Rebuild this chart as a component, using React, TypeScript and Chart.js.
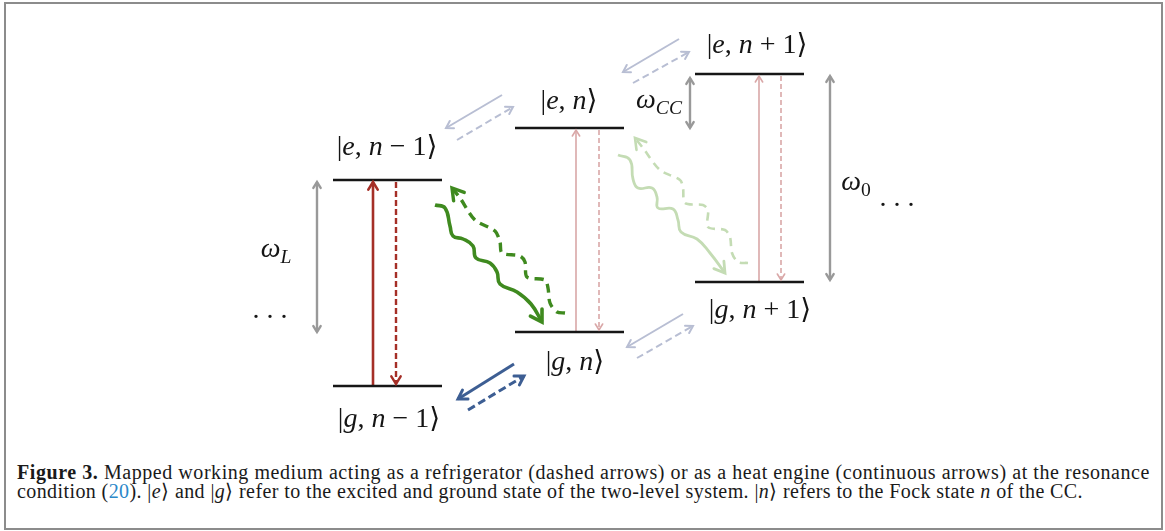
import React, { useEffect, useLayoutEffect, useRef } from "react";
import { Chart, registerables } from "chart.js";

Chart.register(...registerables);

// ---------- data (figure units: x to the right, y downwards) ----------
// Energy levels
const levelKets = ["e, n − 1", "g, n − 1", "e, n", "g, n", "e, n + 1", "g, n + 1"];
const levelStart = [333, 333, 515, 515, 695, 695];
const levelEnd = [442, 442, 624, 624, 804, 804];
const levelY = [180, 386, 128, 332, 74, 282];
const ketX = [387, 389, 569, 575, 757, 760];
const ketY = [155, 427, 109, 370, 53, 318];

// Vertical two-level transitions
const transX = [373, 396, 576, 599, 759, 781];
const transFrom = [386, 182, 332, 130, 282, 76];
const transTo = [182, 384, 130, 330, 76, 280];
const transKind = ["redSolid", "redDash", "pinkSolid", "pinkDash", "pinkSolid", "pinkDash"];

// Energy gaps (double headed)
const gapNames = ["ωL", "ωCC", "ω0"];
const gapX = [317, 690, 830];
const gapTop = [182, 78, 76];
const gapBottom = [332, 128, 280];

// CC transitions between columns
const diagFromX = [502, 457, 679, 633, 683, 637, 514, 468];
const diagFromY = [95, 140, 39, 83, 314, 358, 364, 410];
const diagToX = [446, 513, 623, 689, 627, 693, 458, 524];
const diagToY = [128, 107, 72, 52, 347, 326, 399, 376];
const diagKind = ["paleSolid", "paleDash", "paleSolid", "paleDash", "paleSolid", "paleDash", "blueSolid", "blueDash"];

// Wavy (bath) transitions
const waveDarkSolidX = [435, 445, 450, 453, 463, 473, 476, 490, 497, 500, 517, 531, 542];
const waveDarkSolidY = [205, 208, 226, 236, 239, 246, 258, 263, 272, 284, 292, 304, 322];
const waveDarkDashX = [565, 557, 550, 548, 545, 527, 525, 520, 502, 500, 495, 475, 460, 452];
const waveDarkDashY = [313, 312, 303, 288, 280, 277, 262, 256, 253, 242, 231, 220, 198, 188];
const waveLightSolidX = [618, 630, 633, 638, 652, 657, 658, 673, 678, 681, 697, 710, 725];
const waveLightSolidY = [155, 160, 179, 188, 188, 197, 208, 209, 220, 232, 239, 253, 273];
const waveLightDashX = [748, 738, 732, 730, 725, 708, 708, 703, 685, 683, 680, 660, 643, 635];
const waveLightDashY = [263, 262, 253, 237, 230, 227, 210, 205, 203, 188, 180, 170, 148, 138];

// Extra labels
const dotsX = [270, 897];
const dotsY = [318, 206];
const gapLabelX = [276, 659, 856];
const gapLabelY = [257, 108, 190];

// ---------- styles ----------
const styles: Record<string, any> = {
  level: { borderColor: "#161616", borderWidth: 2.6 },
  redSolid: { borderColor: "#a52f27", borderWidth: 2.6, head: 9 },
  redDash: { borderColor: "#a52f27", borderWidth: 2.4, borderDash: [6, 3], head: 9 },
  pinkSolid: { borderColor: "#d9a7a7", borderWidth: 1.6, head: 7 },
  pinkDash: { borderColor: "#d9a7a7", borderWidth: 1.6, borderDash: [5, 3], head: 7 },
  gap: { borderColor: "#999999", borderWidth: 2.4, head: 7, both: true },
  paleSolid: { borderColor: "#b8bed3", borderWidth: 2, head: 8 },
  paleDash: { borderColor: "#b8bed3", borderWidth: 2, borderDash: [7, 4], head: 8 },
  blueSolid: { borderColor: "#3d5e93", borderWidth: 3, head: 10 },
  blueDash: { borderColor: "#3d5e93", borderWidth: 3, borderDash: [8, 4], head: 10 },
  greenSolid: { borderColor: "#3f8a1f", borderWidth: 3.6, head: 13, tension: 0.45 },
  greenDash: { borderColor: "#3f8a1f", borderWidth: 3.4, borderDash: [9, 6], head: 13, tension: 0.3 },
  lightGreenSolid: { borderColor: "#c4dcb4", borderWidth: 2.8, head: 12, tension: 0.45 },
  lightGreenDash: { borderColor: "#c4dcb4", borderWidth: 2.6, borderDash: [8, 6], head: 12, tension: 0.3 },
};

const MATH_FONT = '"Liberation Serif", "DejaVu Serif", serif';
const MATH_SIZE = 28;

type Part = [string, string];

function ketParts(s: string): Part[] {
  const parts: Part[] = [["|", "r"]];
  for (const ch of s) parts.push([ch, /[a-z]/.test(ch) ? "i" : "r"]);
  parts.push(["⟩", "r"]);
  return parts;
}

function gapParts(s: string): Part[] {
  const sub = s.slice(1);
  return [["ω", "i"], [sub, /[A-Za-z]/.test(sub) ? "si" : "sr"]];
}

function fontFor(style: string) {
  const sub = style[0] === "s";
  const size = sub ? MATH_SIZE * 0.7 : MATH_SIZE;
  const it = style.endsWith("i");
  return `${it ? "italic " : ""}${size}px ${MATH_FONT}`;
}

function drawMath(ctx: CanvasRenderingContext2D, parts: Part[], cx: number, base: number) {
  let w = 0;
  for (const [t, st] of parts) {
    ctx.font = fontFor(st);
    w += ctx.measureText(t).width;
  }
  let x = cx - w / 2;
  for (const [t, st] of parts) {
    ctx.font = fontFor(st);
    const dy = st[0] === "s" ? MATH_SIZE * 0.22 : 0;
    ctx.fillText(t, x, base + dy);
    x += ctx.measureText(t).width;
  }
}

const arrowPlugin = {
  id: "arrowHeads",
  afterDatasetsDraw(chart: any) {
    const ctx: CanvasRenderingContext2D = chart.ctx;
    chart.data.datasets.forEach((ds: any, i: number) => {
      if (!ds.head) return;
      const pts = chart.getDatasetMeta(i).data;
      const n = pts.length;
      if (n < 2) return;
      const draw = (tip: any, from: any) => {
        const a = Math.atan2(tip.y - from.y, tip.x - from.x);
        const L = ds.head;
        const sp = 0.55;
        ctx.beginPath();
        ctx.moveTo(tip.x - L * Math.cos(a - sp), tip.y - L * Math.sin(a - sp));
        ctx.lineTo(tip.x, tip.y);
        ctx.lineTo(tip.x - L * Math.cos(a + sp), tip.y - L * Math.sin(a + sp));
        ctx.stroke();
      };
      ctx.save();
      ctx.setLineDash([]);
      ctx.strokeStyle = ds.borderColor;
      ctx.lineWidth = ds.borderWidth;
      ctx.lineCap = "round";
      ctx.lineJoin = "miter";
      draw(pts[n - 1], pts[n - 2]);
      if (ds.both) draw(pts[0], pts[1]);
      ctx.restore();
    });
  },
};

const textPlugin = {
  id: "mathText",
  afterDatasetsDraw(chart: any) {
    const ctx: CanvasRenderingContext2D = chart.ctx;
    const sx = chart.scales.x;
    const sy = chart.scales.y;
    ctx.save();
    ctx.fillStyle = "#151515";
    ctx.textBaseline = "alphabetic";
    levelKets.forEach((k, i) => {
      drawMath(ctx, ketParts(k), sx.getPixelForValue(ketX[i]), sy.getPixelForValue(ketY[i]));
    });
    gapNames.forEach((g, i) => {
      drawMath(ctx, gapParts(g), sx.getPixelForValue(gapLabelX[i]), sy.getPixelForValue(gapLabelY[i]));
    });
    dotsX.forEach((dx, i) => {
      drawMath(ctx, [[". . .", "r"]], sx.getPixelForValue(dx), sy.getPixelForValue(dotsY[i]));
    });
    ctx.restore();
  },
};

function line(xs: number[], ys: number[], style: any) {
  return {
    data: xs.map((x, i) => ({ x, y: ys[i] })),
    showLine: true,
    pointRadius: 0,
    fill: false,
    tension: 0,
    ...style,
  };
}

export default function App() {
  const canvasRef = useRef<HTMLCanvasElement>(null);
  const cap1 = useRef<HTMLSpanElement>(null);
  const cap2 = useRef<HTMLSpanElement>(null);

  useLayoutEffect(() => {
    const fit = (el: HTMLSpanElement | null, target: number) => {
      if (!el) return;
      el.style.letterSpacing = "0px";
      const w = el.getBoundingClientRect().width;
      const n = (el.textContent || "").length;
      el.style.letterSpacing = `${(target - w) / n}px`;
    };
    fit(cap1.current, 1133);
    fit(cap2.current, 1066);
  }, []);

  useEffect(() => {
    if (!canvasRef.current) return;
    const datasets: any[] = [];
    levelY.forEach((y, i) => datasets.push(line([levelStart[i], levelEnd[i]], [y, y], styles.level)));
    transX.forEach((x, i) => datasets.push(line([x, x], [transFrom[i], transTo[i]], styles[transKind[i]])));
    gapX.forEach((x, i) => datasets.push(line([x, x], [gapTop[i], gapBottom[i]], styles.gap)));
    diagFromX.forEach((x, i) =>
      datasets.push(line([x, diagToX[i]], [diagFromY[i], diagToY[i]], styles[diagKind[i]]))
    );
    datasets.push(line(waveLightSolidX, waveLightSolidY, styles.lightGreenSolid));
    datasets.push(line(waveLightDashX, waveLightDashY, styles.lightGreenDash));
    datasets.push(line(waveDarkSolidX, waveDarkSolidY, styles.greenSolid));
    datasets.push(line(waveDarkDashX, waveDarkDashY, styles.greenDash));

    const chart = new Chart(canvasRef.current, {
      type: "scatter",
      data: { datasets },
      options: {
        responsive: false,
        animation: false,
        events: [],
        layout: { padding: 0 },
        scales: {
          x: { type: "linear", min: 0, max: 1165, display: false },
          y: { type: "linear", min: 0, max: 445, reverse: true, display: false },
        },
        plugins: { legend: { display: false }, tooltip: { enabled: false } },
      } as any,
      plugins: [arrowPlugin, textPlugin],
    });
    return () => chart.destroy();
  }, []);

  const capStyle: React.CSSProperties = {
    display: "inline-block",
    whiteSpace: "nowrap",
  };

  return (
    <div
      style={{
        position: "absolute",
        left: 0,
        top: 0,
        width: 1165,
        height: 531,
        background: "#fff",
        overflow: "hidden",
      }}
    >
      <div
        style={{
          position: "absolute",
          left: 4,
          top: 2,
          width: 1159,
          height: 528,
          boxSizing: "border-box",
          border: "2px solid #8c8c8c",
        }}
      />
      <canvas
        ref={canvasRef}
        width={1165}
        height={445}
        style={{ position: "absolute", left: 0, top: 0, width: 1165, height: 445 }}
      />
      <div
        style={{
          position: "absolute",
          left: 17,
          top: 463,
          fontFamily: '"Liberation Serif", serif',
          fontSize: 20,
          lineHeight: "19px",
          color: "#1a1a1a",
        }}
      >
        <span ref={cap1} style={capStyle}>
          <b>Figure 3.</b> Mapped working medium acting as a refrigerator (dashed arrows) or as a heat engine
          (continuous arrows) at the resonance
        </span>
        <br />
        <span ref={cap2} style={capStyle}>
          condition (<span style={{ color: "#2b88c9" }}>20</span>). |<i>e</i>⟩ and |<i>g</i>⟩ refer to the excited
          and ground state of the two-level system. |<i>n</i>⟩ refers to the Fock state <i>n</i> of the CC.
        </span>
      </div>
    </div>
  );
}
